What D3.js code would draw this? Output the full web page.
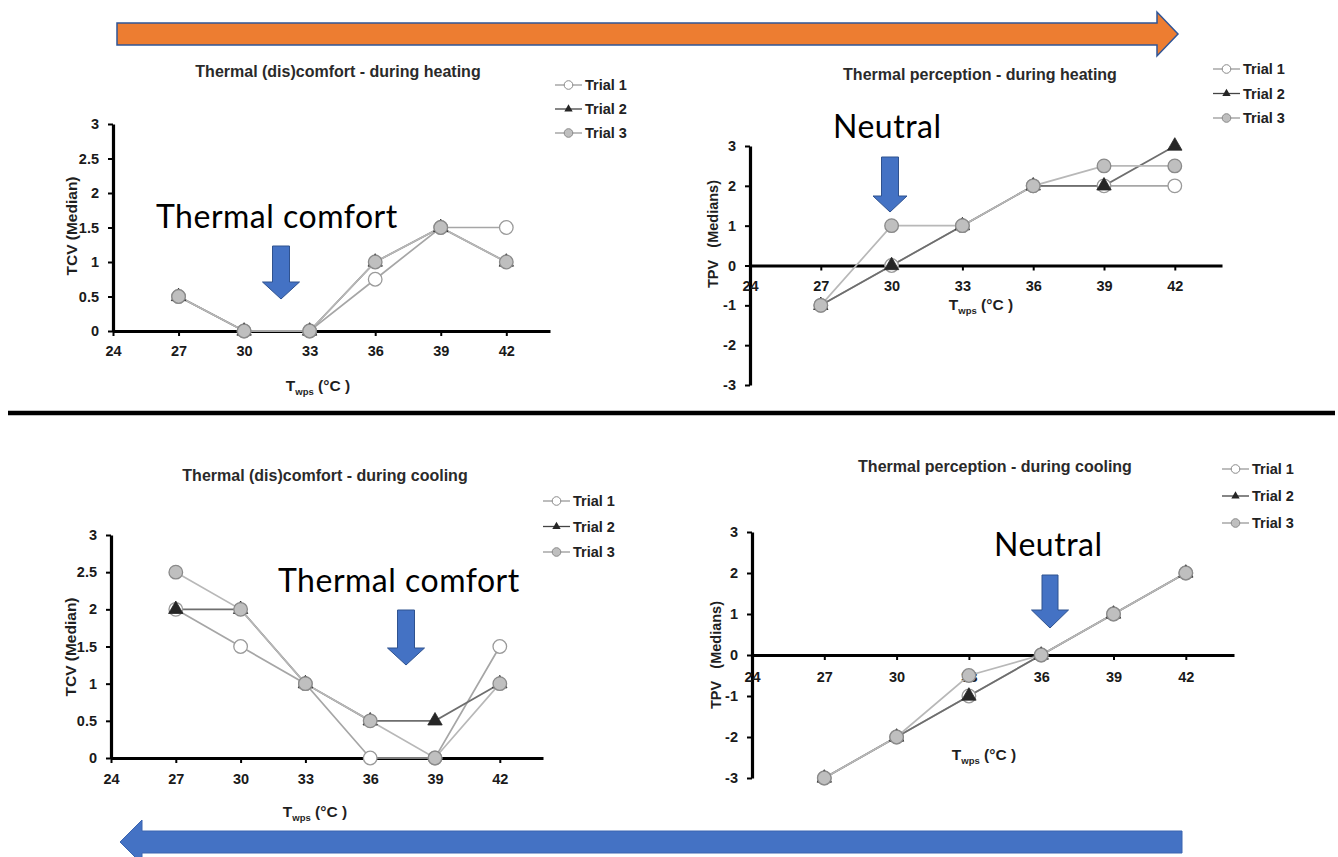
<!DOCTYPE html>
<html><head><meta charset="utf-8">
<script src="https://cdn.jsdelivr.net/npm/d3@7"></script>
<style>body{margin:0;background:#fff} svg{display:block}</style>
</head><body>
<svg id="c" width="1338" height="857"></svg>
<script>
// ---------- data ----------
const xTicks = [24, 27, 30, 33, 36, 39, 42];
const temps = [27, 30, 33, 36, 39, 42];
const trialNames = ["Trial 1", "Trial 2", "Trial 3"];
const tcvTicks = [0, 0.5, 1, 1.5, 2, 2.5, 3];
const tpvTicks = [-3, -2, -1, 0, 1, 2, 3];

const tcvHeatTrial1 = [0.5, 0, 0, 0.75, 1.5, 1.5];
const tcvHeatTrial2 = [0.5, 0, 0, 1, 1.5, 1];
const tcvHeatTrial3 = [0.5, 0, 0, 1, 1.5, 1];

const tpvHeatTrial1 = [-1, 0, 1, 2, 2, 2];
const tpvHeatTrial2 = [-1, 0, 1, 2, 2, 3];
const tpvHeatTrial3 = [-1, 1, 1, 2, 2.5, 2.5];

const tcvCoolTrial1 = [2, 1.5, 1, 0, 0, 1.5];
const tcvCoolTrial2 = [2, 2, 1, 0.5, 0.5, 1];
const tcvCoolTrial3 = [2.5, 2, 1, 0.5, 0, 1];

const tpvCoolTrial1 = [-3, -2, -1, 0, 1, 2];
const tpvCoolTrial2 = [-3, -2, -1, 0, 1, 2];
const tpvCoolTrial3 = [-3, -2, -0.5, 0, 1, 2];

const panelTitles = [
  "Thermal (dis)comfort - during heating",
  "Thermal perception - during heating",
  "Thermal (dis)comfort - during cooling",
  "Thermal perception - during cooling"
];
const yTitles = ["TCV (Median)", "TPV   (Medians)", "TCV (Median)", "TPV   (Medians)"];
const annotations = ["Thermal comfort", "Neutral", "Thermal comfort", "Neutral"];

// ---------- drawing ----------
const svg = d3.select("#c");
const FONT = "'Liberation Sans', Arial, sans-serif";

const lineColors = ["#a6a6a6", "#6e6e6e", "#b8b8b8"];

function downArrow(g, cx, top, shaftW, headW, headStart, tip) {
  const pts = [
    [cx - shaftW / 2, top], [cx + shaftW / 2, top], [cx + shaftW / 2, headStart],
    [cx + headW / 2, headStart], [cx, tip], [cx - headW / 2, headStart],
    [cx - shaftW / 2, headStart]
  ];
  g.append("path").attr("d", d3.line()(pts) + "Z")
    .attr("fill", "#4472C4").attr("stroke", "#2F528F").attr("stroke-width", 1);
}

function panel(cfg) {
  const g = svg.append("g");
  const x = d3.scaleLinear().domain([24, 44]).range([cfg.x0, cfg.xEnd]);
  const y = d3.scaleLinear().domain(cfg.yDomain).range([cfg.yb, cfg.yt]);

  // annotation text + arrow (behind data)
  g.append("text").attr("x", cfg.ann.x).attr("y", cfg.ann.y)
    .attr("font-family", "Lato, 'Open Sans', sans-serif").attr("font-size", cfg.ann.size)
    .attr("letter-spacing", 0.5)
    .attr("fill", "#000").text(annotations[cfg.idx]);
  downArrow(g, cfg.arrow.cx, cfg.arrow.top, cfg.arrow.sw, cfg.arrow.hw, cfg.arrow.hs, cfg.arrow.tip);

  // y axis
  const ya = d3.axisLeft(y).tickValues(cfg.yTicks).tickSize(5).tickSizeOuter(0)
    .tickPadding(9).tickFormat(d => String(d));
  const yg = g.append("g").attr("transform", `translate(${cfg.x0},0)`).call(ya);
  // x axis
  const xa = d3.axisBottom(x).tickValues(xTicks).tickSize(5).tickSizeOuter(0)
    .tickPadding(cfg.xPad).tickFormat(d => String(d));
  const xg = g.append("g").attr("transform", `translate(0,${y(0)})`).call(xa);

  [yg, xg].forEach(a => {
    a.select(".domain").attr("stroke", "#000").attr("stroke-width", 3.2);
    a.selectAll(".tick line").attr("stroke", "#000").attr("stroke-width", 2);
    a.selectAll(".tick text").attr("font-family", FONT).attr("font-weight", "bold")
      .attr("font-size", 14.5).attr("fill", "#1a1a1a");
  });

  // title
  g.append("text").attr("x", cfg.title.x).attr("y", cfg.title.y)
    .attr("text-anchor", "middle").attr("font-family", FONT).attr("font-weight", "bold")
    .attr("font-size", 16).attr("fill", "#2a2a2a").text(panelTitles[cfg.idx]);

  // y title
  g.append("text").attr("transform", `translate(${cfg.yTitle.x},${cfg.yTitle.y}) rotate(-90)`)
    .attr("text-anchor", "middle").attr("font-family", FONT).attr("font-weight", "bold")
    .attr("font-size", cfg.yTitle.size).attr("fill", "#1f1f1f")
    .style("white-space", "pre").text(yTitles[cfg.idx]);

  // x title
  const xt = g.append("text").attr("x", cfg.xTitle.x).attr("y", cfg.xTitle.y)
    .attr("text-anchor", "middle").attr("font-family", FONT).attr("font-weight", "bold")
    .attr("font-size", 15.5).attr("fill", "#1f1f1f");
  xt.append("tspan").text("T");
  xt.append("tspan").attr("font-size", 9.5).attr("dy", 4).text("wps");
  xt.append("tspan").attr("dy", -4).text(" (°C )");

  // series
  const series = cfg.series.map(vals => temps.map((t, i) => ({ t, v: vals[i] })));
  const line = d3.line().x(d => x(d.t)).y(d => y(d.v));
  series.forEach((s, k) => {
    g.append("path").datum(s).attr("d", line).attr("fill", "none")
      .attr("stroke", lineColors[k]).attr("stroke-width", 1.7);
  });
  series.forEach((s, k) => {
    if (k === 1) {
      g.selectAll(null).data(s).enter().append("path")
        .attr("d", d3.symbol(d3.symbolTriangle, 90)())
        .attr("transform", d => `translate(${x(d.t)},${y(d.v)})`)
        .attr("fill", "#262626").attr("stroke", "#262626").attr("stroke-width", 0.8);
    } else {
      g.selectAll(null).data(s).enter().append("circle")
        .attr("cx", d => x(d.t)).attr("cy", d => y(d.v)).attr("r", 6.8)
        .attr("fill", k === 0 ? "#ffffff" : "#bfbfbf")
        .attr("stroke", k === 0 ? "#9a9a9a" : "#8a8a8a").attr("stroke-width", 1.3);
    }
  });

  // legend
  trialNames.forEach((name, k) => {
    const ly = cfg.legend.y0 + k * cfg.legend.dy;
    const lg = g.append("g");
    lg.append("line").attr("x1", cfg.legend.x).attr("x2", cfg.legend.x + 27)
      .attr("y1", ly).attr("y2", ly).attr("stroke", k === 1 ? "#444" : "#9a9a9a").attr("stroke-width", 1.3);
    const mx = cfg.legend.x + 13.5;
    if (k === 1) {
      lg.append("path").attr("d", d3.symbol(d3.symbolTriangle, 30)())
        .attr("transform", `translate(${mx},${ly})`).attr("fill", "#262626");
    } else {
      lg.append("circle").attr("cx", mx).attr("cy", ly).attr("r", 4.3)
        .attr("fill", k === 0 ? "#fff" : "#bfbfbf").attr("stroke", "#8a8a8a")
        .attr("stroke-width", 1);
    }
    lg.append("text").attr("x", cfg.legend.x + 30).attr("y", ly).attr("dy", "0.36em")
      .attr("font-family", FONT).attr("font-weight", "bold").attr("font-size", 14.5)
      .attr("fill", "#222").text(name);
  });
}

// big direction arrows
svg.append("path").attr("d", d3.line()([[117, 23], [1157, 23], [1157, 12], [1178, 34], [1157, 56], [1157, 45], [117, 45]]) + "Z")
  .attr("fill", "#ED7D31").attr("stroke", "#2F5597").attr("stroke-width", 1.5);
svg.append("path").attr("d", d3.line()([[1182, 831], [142, 831], [142, 820], [120, 842], [142, 864], [142, 853], [1182, 853]]) + "Z")
  .attr("fill", "#4472C4").attr("stroke", "#3A64B0").attr("stroke-width", 1);

// divider
svg.append("line").attr("x1", 8).attr("x2", 1335).attr("y1", 413).attr("y2", 413)
  .attr("stroke", "#000").attr("stroke-width", 4.5);

panel({
  idx: 0, x0: 113, xEnd: 550, yb: 331, yt: 124, yDomain: [0, 3], yTicks: tcvTicks, xPad: 10,
  series: [tcvHeatTrial1, tcvHeatTrial2, tcvHeatTrial3],
  title: { x: 338, y: 77 }, yTitle: { x: 77, y: 226, size: 15.5 }, xTitle: { x: 318, y: 391 },
  legend: { x: 555, y0: 85, dy: 24 },
  ann: { x: 156, y: 228, size: 32 },
  arrow: { cx: 281, top: 246, sw: 17, hw: 37, hs: 282, tip: 299 }
});
panel({
  idx: 1, x0: 750, xEnd: 1222, yb: 385, yt: 146, yDomain: [-3, 3], yTicks: tpvTicks, xPad: 10,
  series: [tpvHeatTrial1, tpvHeatTrial2, tpvHeatTrial3],
  title: { x: 980, y: 80 }, yTitle: { x: 718, y: 234, size: 14.5 }, xTitle: { x: 981, y: 310 },
  legend: { x: 1213, y0: 69, dy: 24.5 },
  ann: { x: 833, y: 138, size: 32 },
  arrow: { cx: 890, top: 157, sw: 17, hw: 34, hs: 196, tip: 212 }
});
panel({
  idx: 2, x0: 111, xEnd: 543, yb: 758, yt: 535, yDomain: [0, 3], yTicks: tcvTicks, xPad: 11,
  series: [tcvCoolTrial1, tcvCoolTrial2, tcvCoolTrial3],
  title: { x: 325, y: 481 }, yTitle: { x: 76, y: 647, size: 15.5 }, xTitle: { x: 315, y: 817 },
  legend: { x: 543, y0: 501, dy: 25.5 },
  ann: { x: 278, y: 592, size: 32 },
  arrow: { cx: 406, top: 610, sw: 17, hw: 37, hs: 648, tip: 665 }
});
panel({
  idx: 3, x0: 752, xEnd: 1234, yb: 778, yt: 532, yDomain: [-3, 3], yTicks: tpvTicks, xPad: 12,
  series: [tpvCoolTrial1, tpvCoolTrial2, tpvCoolTrial3],
  title: { x: 995, y: 472 }, yTitle: { x: 721, y: 655, size: 14.5 }, xTitle: { x: 984, y: 760 },
  legend: { x: 1222, y0: 469, dy: 27 },
  ann: { x: 994, y: 556, size: 32 },
  arrow: { cx: 1050, top: 575, sw: 16, hw: 37, hs: 610, tip: 628 }
});
</script>
</body></html>
